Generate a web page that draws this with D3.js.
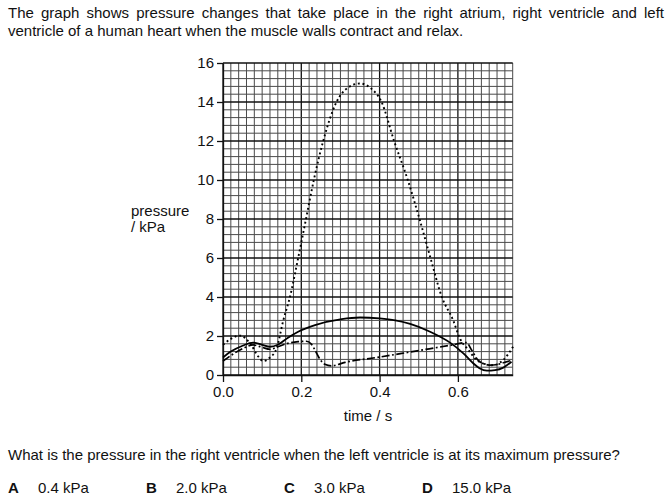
<!DOCTYPE html>
<html>
<head>
<meta charset="utf-8">
<script src="https://cdn.jsdelivr.net/npm/d3@7.9.0/dist/d3.min.js"></script>
<style>
  body { margin: 0; background: #fff; }
  svg { display: block; font-family: "Liberation Sans", Arial, sans-serif; }
  text { fill: #111; }
</style>
</head>
<body>
<svg id="chart" width="671" height="501"></svg>
<script>
// data: [time / s, pressure / kPa]
const leftVentricle = [
  [0, 1.55], [0.02, 1.85], [0.043, 2.02], [0.07, 1.6], [0.09, 0.95], [0.103, 0.72],
  [0.12, 0.9], [0.137, 1.37], [0.154, 2.8], [0.171, 4], [0.192, 6], [0.212, 8],
  [0.232, 10], [0.256, 12], [0.29, 14], [0.32, 14.75], [0.35, 14.95], [0.378, 14.7],
  [0.405, 14], [0.437, 12], [0.472, 10], [0.502, 8], [0.53, 6], [0.559, 4],
  [0.588, 2.8], [0.605, 1.88], [0.627, 1.28], [0.648, 0.77], [0.668, 0.56],
  [0.686, 0.5], [0.7, 0.55], [0.716, 0.77], [0.741, 1.45]
];
const rightVentricle = [
  [0, 0.9], [0.02, 1.2], [0.05, 1.5], [0.077, 1.66], [0.1, 1.55], [0.12, 1.45],
  [0.14, 1.55], [0.165, 1.9], [0.192, 2.22], [0.235, 2.56], [0.303, 2.87],
  [0.35, 2.95], [0.4, 2.9], [0.44, 2.8], [0.478, 2.62], [0.529, 2.22], [0.58, 1.66],
  [0.614, 1.11], [0.639, 0.6], [0.655, 0.35], [0.674, 0.22], [0.695, 0.25],
  [0.716, 0.38], [0.737, 0.68]
];
const rightAtrium = [
  [0, 0.72], [0.02, 1.0], [0.05, 1.35], [0.077, 1.54], [0.1, 1.42], [0.12, 1.32],
  [0.14, 1.45], [0.165, 1.62], [0.192, 1.71], [0.213, 1.73], [0.225, 1.6],
  [0.235, 1.28], [0.248, 0.8], [0.26, 0.55], [0.277, 0.47], [0.312, 0.65],
  [0.4, 0.92], [0.478, 1.18], [0.58, 1.52], [0.622, 1.66], [0.635, 1.28],
  [0.652, 0.75], [0.668, 0.57], [0.682, 0.51], [0.7, 0.53], [0.716, 0.63], [0.737, 0.75]
];

const xTicks = [0, 0.2, 0.4, 0.6];
const yTicks = [0, 2, 4, 6, 8, 10, 12, 14, 16];
const options = [["A", "0.4 kPa"], ["B", "2.0 kPa"], ["C", "3.0 kPa"], ["D", "15.0 kPa"]];

const svg = d3.select('#chart');

const x = d3.scaleLinear().domain([0, 0.74]).range([223, 512.7]);
const y = d3.scaleLinear().domain([0, 16]).range([375, 63]);

// question text
const line1 = svg.append('text').attr('x', 8).attr('y', 18).attr('font-size', 15)
  .text('The graph shows pressure changes that take place in the right atrium, right ventricle and left');
// justify the first line like the printed page
const w = line1.node().getComputedTextLength();
const gaps = line1.text().split(' ').length - 1;
line1.attr('word-spacing', ((656 - w) / gaps).toFixed(2));

svg.append('text').attr('x', 8).attr('y', 36).attr('font-size', 15)
  .text('ventricle of a human heart when the muscle walls contract and relax.');

// grid paper
const grid = svg.append('g');
d3.range(0, 38).forEach((i) => {
  grid.append('line')
    .attr('x1', x(i * 0.02)).attr('x2', x(i * 0.02))
    .attr('y1', y(0)).attr('y2', y(16))
    .attr('stroke', i % 10 === 0 ? '#111' : '#4a4a4a')
    .attr('stroke-width', i % 10 === 0 ? 1.3 : 1);
});
d3.range(0, 41).forEach((i) => {
  grid.append('line')
    .attr('x1', x(0)).attr('x2', x(0.74))
    .attr('y1', y(i * 0.4)).attr('y2', y(i * 0.4))
    .attr('stroke', i % 5 === 0 ? '#111' : '#4a4a4a')
    .attr('stroke-width', i % 5 === 0 ? 1.3 : 1);
});

// axes
const yAxis = svg.append('g').attr('transform', `translate(${x(0)},0)`)
  .call(d3.axisLeft(y).tickValues(yTicks).tickSize(6).tickSizeOuter(0).tickPadding(3));
const xAxis = svg.append('g').attr('transform', `translate(0,${y(0)})`)
  .call(d3.axisBottom(x).tickValues(xTicks).tickSize(7).tickSizeOuter(0)
    .tickFormat(d3.format('.1f')).tickPadding(4));
[yAxis, xAxis].forEach((a) => {
  a.attr('font-size', 15).attr('font-family', '"Liberation Sans", Arial, sans-serif');
  a.selectAll('path, line').attr('stroke', '#111').attr('stroke-width', 1.3);
  a.selectAll('text').attr('fill', '#111');
});

// curves
const line = d3.line()
  .x((d) => x(d[0]))
  .y((d) => y(d[1]))
  .curve(d3.curveMonotoneX);

svg.append('path').datum(rightVentricle)
  .attr('d', line).attr('fill', 'none')
  .attr('stroke', '#000').attr('stroke-width', 1.8);

svg.append('path').datum(rightAtrium)
  .attr('d', line).attr('fill', 'none')
  .attr('stroke', '#000').attr('stroke-width', 1.7)
  .attr('stroke-dasharray', '8,2.5,1.8,2.5');

svg.append('path').datum(leftVentricle)
  .attr('d', line).attr('fill', 'none')
  .attr('stroke', '#000').attr('stroke-width', 1.9)
  .attr('stroke-dasharray', '1.9,2.8');

// axis titles
svg.append('text').attr('x', 131).attr('y', 216).attr('font-size', 15).text('pressure');
svg.append('text').attr('x', 131).attr('y', 232).attr('font-size', 15).text('/ kPa');
svg.append('text').attr('x', 368).attr('y', 421).attr('font-size', 15)
  .attr('text-anchor', 'middle').text('time / s');

// question and answers
svg.append('text').attr('x', 8).attr('y', 460).attr('font-size', 15)
  .text('What is the pressure in the right ventricle when the left ventricle is at its maximum pressure?');

const optX = [8, 146, 284, 422];
options.forEach(([letter, value], i) => {
  svg.append('text').attr('x', optX[i]).attr('y', 493).attr('font-size', 15)
    .attr('font-weight', 'bold').text(letter);
  svg.append('text').attr('x', optX[i] + 30).attr('y', 493).attr('font-size', 15).text(value);
});
</script>
</body>
</html>
